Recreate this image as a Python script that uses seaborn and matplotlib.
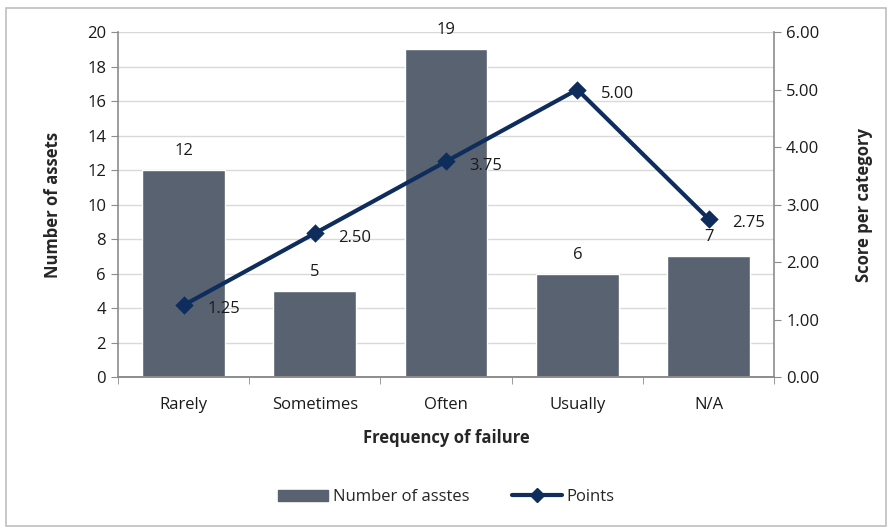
import numpy as np
import pandas as pd
import seaborn as sb
import matplotlib.pyplot as plt
from matplotlib.patches import Rectangle

categories = ['Rarely', 'Sometimes', 'Often', 'Usually', 'N/A']
assets = [12, 5, 19, 6, 7]
points = [1.25, 2.50, 3.75, 5.00, 2.75]

df = pd.DataFrame({'Frequency': categories, 'Assets': assets, 'Points': points})

sb.set_style('white')
plt.rcParams['font.family'] = ['Open Sans', 'DejaVu Sans']

bar_col = '#586270'
line_col = '#0E2D5C'
axis_col = '#8C8C8C'

fig = plt.figure(figsize=(8.93, 5.29), dpi=100)
ax = fig.add_axes([0.132, 0.287, 0.735, 0.6525])

sb.barplot(data=df, x='Frequency', y='Assets', color=bar_col, width=0.63,
           saturation=1, ax=ax, zorder=2)
ax.set_xlim(-0.5, 4.5)
ax.set_ylim(0, 20)
ax.set_yticks(range(0, 21, 2))
ax.yaxis.grid(True, color='#D9D9D9', linewidth=1, zorder=0)
ax.set_axisbelow(True)

for i, v in enumerate(assets):
    ax.annotate(str(v), (i, v), xytext=(0, 8), textcoords='offset points',
                ha='center', va='bottom', fontsize=12, color='#1a1a1a')

ax2 = ax.twinx()
sb.pointplot(data=df, x='Frequency', y='Points', color=line_col, markers='D',
             linestyles='-', ax=ax2, markersize=7.5, linewidth=3)
ax2.set_xlim(-0.5, 4.5)
ax2.set_ylim(0, 6)
ax2.set_yticks(range(0, 7))
ax2.set_yticklabels(['%.2f' % t for t in range(0, 7)])

for i, v in enumerate(points):
    ax2.annotate('%.2f' % v, (i, v), xytext=(17, -3), textcoords='offset points',
                 ha='left', va='center', fontsize=12, color='#1a1a1a')

# excel-like axes
for a in (ax, ax2):
    a.spines['top'].set_visible(False)
    for s in ('left', 'right', 'bottom'):
        a.spines[s].set_color(axis_col)
        a.spines[s].set_linewidth(1.2)
ax.spines['right'].set_visible(False)
ax2.spines['left'].set_visible(False)

ax.tick_params(axis='y', direction='out', length=5, color=axis_col,
               labelsize=12, labelcolor='#1a1a1a', left=True)
ax2.tick_params(axis='y', direction='out', length=5, color=axis_col,
                labelsize=12, labelcolor='#1a1a1a', right=True)
ax.tick_params(axis='x', which='major', length=0, labelsize=12,
               labelcolor='#1a1a1a', pad=14)
ax.set_xticks(np.arange(-0.5, 5, 1), minor=True)
ax.tick_params(axis='x', which='minor', length=5, color=axis_col,
               direction='out', bottom=True)

ax.set_xlabel('Frequency of failure', fontsize=12, fontweight='bold', labelpad=12)
ax.set_ylabel('Number of assets', fontsize=12, fontweight='bold', labelpad=18)
ax2.set_ylabel('Score per category', fontsize=12, fontweight='bold', labelpad=26)

handles = [Rectangle((0, 0), 1, 1, color=bar_col),
           plt.Line2D([], [], color=line_col, lw=3, marker='D', markersize=7)]
fig.legend(handles, ['Number of asstes', 'Points'], loc='center',
           bbox_to_anchor=(0.5, 0.06), ncol=2, frameon=False, fontsize=12,
           handlelength=3, columnspacing=2.5, handletextpad=0.3)

fig.patches.append(Rectangle((0.007, 0.005), 0.985, 0.98, transform=fig.transFigure,
                             fill=False, edgecolor='#BFBFBF', linewidth=1.2))

plt.savefig('out.png', dpi=100)
